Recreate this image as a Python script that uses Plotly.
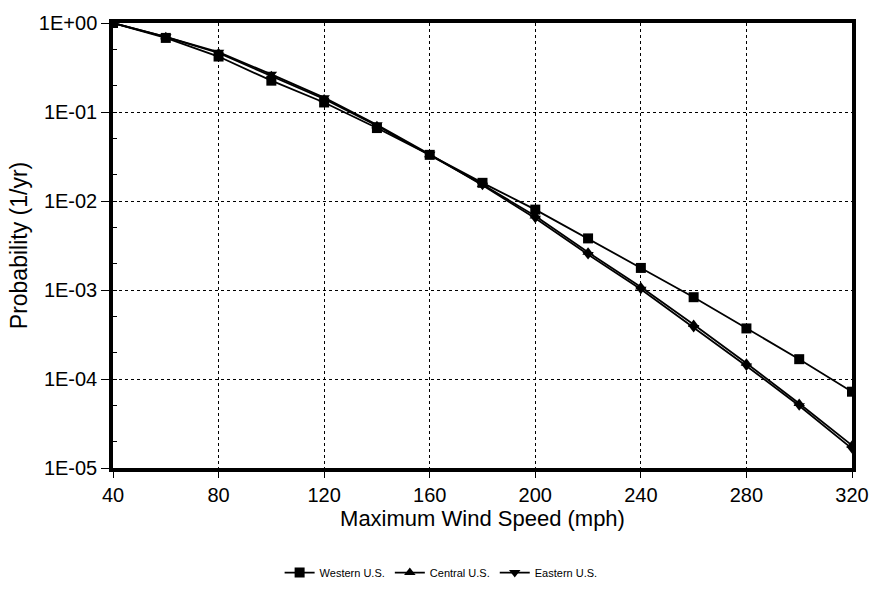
import plotly.graph_objects as go

wind_speed = [40, 60, 80, 100, 120, 140, 160, 180, 200, 220, 240, 260, 280, 300, 320]
western = [1.0, 0.68, 0.42, 0.225, 0.128, 0.066, 0.0330, 0.0160, 0.0080, 0.0038, 0.00177, 0.00083, 0.00037, 0.000167, 7.2e-5]
central = [1.0, 0.70, 0.46, 0.255, 0.140, 0.070, 0.0330, 0.0153, 0.0068, 0.00265, 0.00108, 0.00041, 0.000150, 5.3e-5, 1.8e-5]
eastern = [1.0, 0.70, 0.47, 0.265, 0.145, 0.072, 0.0335, 0.0150, 0.0064, 0.00250, 0.00102, 0.00038, 0.000140, 5.0e-5, 1.65e-5]

y_tickvals = [1, 1e-1, 1e-2, 1e-3, 1e-4, 1e-5]
y_ticktext = ["1E+00", "1E-01", "1E-02", "1E-03", "1E-04", "1E-05"]
x_tickvals = [40, 80, 120, 160, 200, 240, 280, 320]

series = [
    ("Western U.S.", western, "square"),
    ("Central U.S.", central, "triangle-up"),
    ("Eastern U.S.", eastern, "triangle-down"),
]

fig = go.Figure()
for name, vals, sym in series:
    fig.add_trace(go.Scatter(
        x=wind_speed, y=vals, name=name, mode="lines+markers",
        line=dict(color="black", width=1.8),
        marker=dict(symbol=sym, size=10, color="black"),
    ))

font_family = "Liberation Sans, Arial, sans-serif"
fig.update_layout(
    width=881, height=599,
    margin=dict(l=113, r=21, t=17, b=127),
    paper_bgcolor="white", plot_bgcolor="white",
    font=dict(family=font_family, color="black"),
    showlegend=True,
    legend=dict(orientation="h", x=0.444, xanchor="center", y=-0.235, yanchor="middle",
                font=dict(size=11, family=font_family), itemwidth=30, tracegroupgap=0),
)
fig.update_xaxes(
    range=[40, 320], tickvals=x_tickvals,
    showline=True, linecolor="black", linewidth=3.5, mirror=True,
    showgrid=True, gridcolor="black", gridwidth=1.4, griddash="dot",
    ticks="outside", ticklen=6, tickcolor="black",
    tickfont=dict(size=20), zeroline=False,
    title=dict(text="Maximum Wind Speed (mph)", font=dict(size=22), standoff=6),
)
fig.update_yaxes(
    type="log", range=[-5, 0], tickvals=y_tickvals, ticktext=y_ticktext,
    showline=True, linecolor="black", linewidth=3.5, mirror=True,
    showgrid=True, gridcolor="black", gridwidth=1.4, griddash="dot",
    ticks="outside", ticklen=8, tickcolor="black",
    minor=dict(ticks="inside", ticklen=4, tickcolor="black", showgrid=False),
    tickfont=dict(size=20), zeroline=False,
    title=dict(text="Probability (1/yr)", font=dict(size=23), standoff=6),
)

fig.write_html("out.html")
